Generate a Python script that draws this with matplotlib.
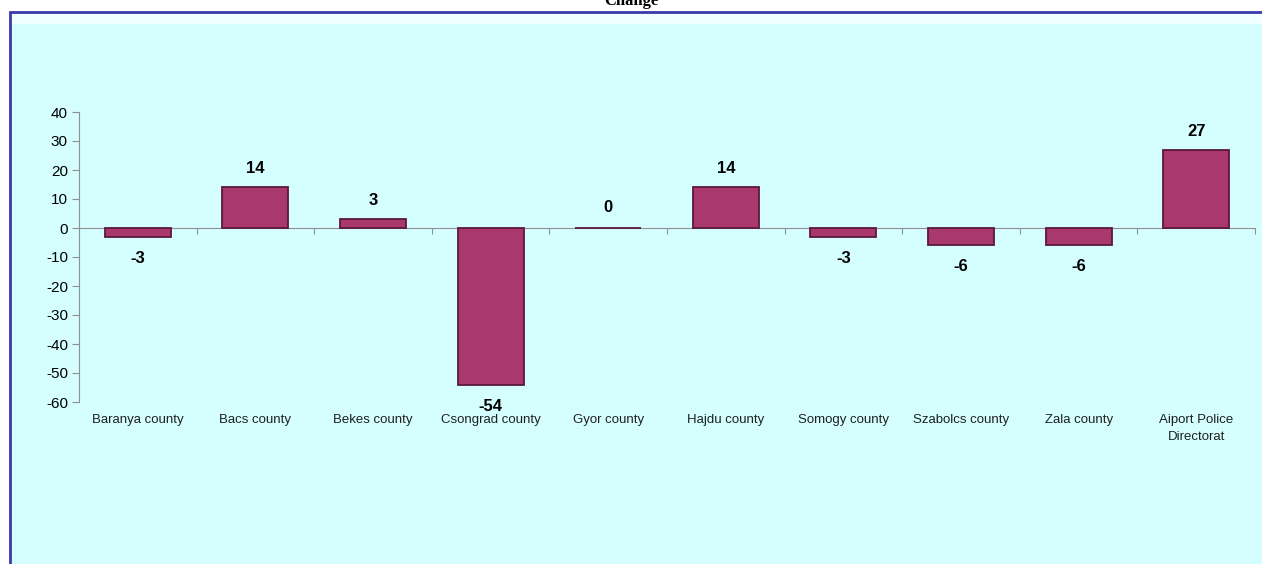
import matplotlib.pyplot as plt
import matplotlib.patches as mpatches
import numpy as np

# data
counties = ['Baranya county', 'Bacs county', 'Bekes county', 'Csongrad county',
            'Gyor county', 'Hajdu county', 'Somogy county', 'Szabolcs county',
            'Zala county', 'Aiport Police\nDirectorat']
change = [-3, 14, 3, -54, 0, 14, -3, -6, -6, 27]
yticks = [40, 30, 20, 10, 0, -10, -20, -30, -40, -50, -60]

plt.rcParams['font.family'] = ['Liberation Sans', 'DejaVu Sans']
plt.rcParams['axes.unicode_minus'] = False

fig = plt.figure(figsize=(12.62, 5.64), dpi=100)
fig.patch.set_facecolor('white')

# panel background with blue border
panel = mpatches.Rectangle((10 / 1262, -0.05), 1.0, 1 - 12 / 564 + 0.05,
                           transform=fig.transFigure, facecolor='#D5FFFF',
                           edgecolor='#3a3aa8', linewidth=2.0, zorder=0)
fig.patches.append(panel)
band = mpatches.Rectangle((12 / 1262, 1 - 24 / 564), 1.0, 10 / 564,
                          transform=fig.transFigure, facecolor='#F0FFFF',
                          edgecolor='none', zorder=0)
fig.patches.append(band)

fig.text(0.5, 1 - 5 / 564, 'Change', ha='center', va='baseline',
         fontfamily='Liberation Serif', fontweight='bold', fontsize=12)

ax = fig.add_axes([79 / 1262, 1 - 402 / 564, (1255 - 79) / 1262, 290 / 564])
ax.set_facecolor('none')
ax.set_zorder(2)

x = np.arange(len(counties))
ax.bar(x, change, width=0.56, color='#A8386D', edgecolor='#5C1838',
       linewidth=1.3, zorder=3)

for xi, v in zip(x, change):
    if v > 0:
        ax.text(xi, v + 3.8, str(v), ha='center', va='bottom',
                fontsize=12, fontweight='bold')
    elif v < 0:
        ax.text(xi, v - 4.8, str(v), ha='center', va='top',
                fontsize=12, fontweight='bold')
    else:
        ax.text(xi, 4.5, str(v), ha='center', va='bottom',
                fontsize=12, fontweight='bold')

ax.set_xlim(-0.5, len(counties) - 0.5)
ax.set_ylim(-60, 40)
ax.set_yticks(yticks)
ax.tick_params(axis='y', labelsize=11, color='#909090', length=5, pad=3)

ax.spines['top'].set_visible(False)
ax.spines['right'].set_visible(False)
ax.spines['bottom'].set_position(('data', 0))
ax.spines['bottom'].set_color('#909090')
ax.spines['left'].set_color('#909090')

# tick marks at category boundaries on the zero line, labels at bottom
ax.set_xticks(np.arange(len(counties) + 1) - 0.5)
ax.set_xticklabels([])
ax.tick_params(axis='x', color='#909090', length=4)
for xi, name in zip(x, counties):
    ax.text(xi, -64.3, name, ha='center', va='top', fontsize=9.5,
            color='#202020', linespacing=1.5)

fig.savefig('out.png', dpi=100)
